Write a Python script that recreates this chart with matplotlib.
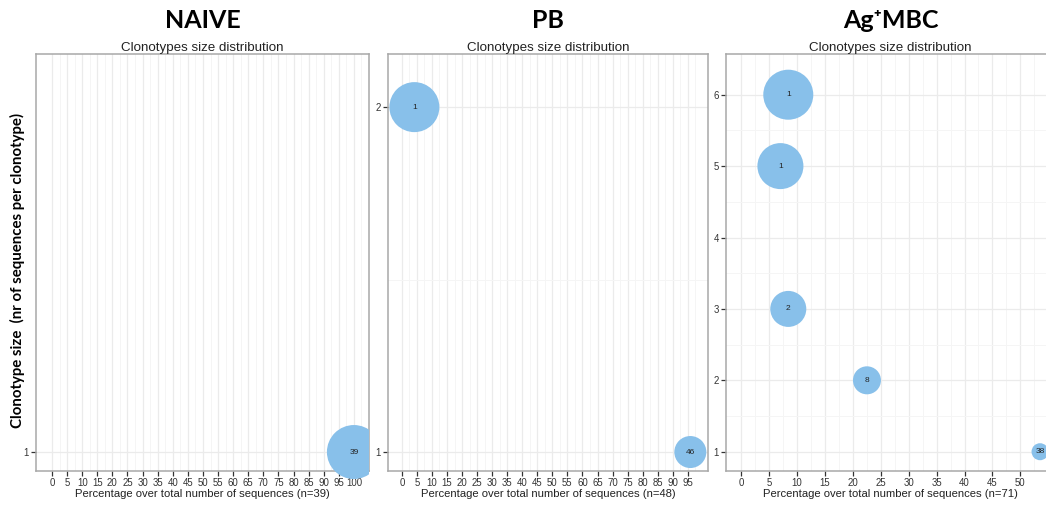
import numpy as np
import matplotlib.pyplot as plt
from matplotlib.patches import Rectangle

plt.rcParams['font.family'] = ['Liberation Sans', 'DejaVu Sans']

# clonotype size (sequences per clonotype) and number of clonotypes of that size
naive_size = [1]
naive_count = [39]
naive_n = 39

pb_size = [2, 1]
pb_count = [1, 46]
pb_n = 48

mbc_size = [6, 5, 3, 2, 1]
mbc_count = [1, 1, 2, 8, 38]
mbc_n = 71

panel_titles = ['NAIVE', 'PB', 'Ag\u207aMBC']
naive_xticks = list(range(0, 101, 5))
pb_xticks = list(range(0, 96, 5))
mbc_xticks = list(range(0, 51, 5))

# bubble radii in pixels
naive_r = [27]
pb_r = [25, 16]
mbc_r = [25, 23, 18, 14, 8.5]

W, H = 1046, 507
fig = plt.figure(figsize=(W / 100, H / 100), dpi=100)
fig.patch.set_facecolor('white')

BUBBLE = '#88c0ea'
GRID_MAJ = '#ebebeb'
GRID_MIN = '#f5f5f5'


def px_axes(x0, x1, y0, y1):
    return fig.add_axes([x0 / W, 1 - y1 / H, (x1 - x0) / W, (y1 - y0) / H])


def panel(ax, size, count, n, radii, xticks, xlim, ylim, yticks):
    pct = [s * c / n * 100 for s, c in zip(size, count)]
    ax.set_xlim(*xlim)
    ax.set_ylim(*ylim)
    ax.set_xticks(xticks)
    ax.set_xticks([t + 2.5 for t in xticks], minor=True)
    ax.set_yticks(yticks)
    ax.set_yticks([t + 0.5 for t in yticks[:-1]] if len(yticks) > 1 else [], minor=True)
    ax.grid(True, which='major', color=GRID_MAJ, lw=0.9, zorder=0)
    ax.grid(True, which='minor', color=GRID_MIN, lw=0.7, zorder=0)
    ax.set_axisbelow(True)
    ax.tick_params(which='major', length=3.5, width=0.9, color='#333333',
                   labelsize=6.9, labelcolor='#333333', pad=1.5)
    ax.tick_params(which='minor', length=0)
    for sp in ax.spines.values():
        sp.set_color('#a8a8a8')
        sp.set_linewidth(1.1)
    s = [(2 * r * 0.72) ** 2 for r in radii]
    sc = ax.scatter(pct, size, s=s, color=BUBBLE, edgecolors='none', zorder=3)
    clip = Rectangle((0, -0.2), 1, 1.4, transform=ax.transAxes, fill=False)
    sc.set_clip_path(clip)
    for x, y, c in zip(pct, size, count):
        ax.text(x, y, str(c), ha='center', va='center', fontsize=6,
                color='#222222', zorder=4, clip_on=False)
    ax.set_xlabel(f'Percentage over total number of sequences (n={n})',
                  fontsize=8.1, color='#222222', labelpad=0.5)
    ax.set_title('Clonotypes size distribution', fontsize=9.6, color='#222222', pad=2.5)


ax1 = px_axes(36, 369, 54, 471)
panel(ax1, naive_size, naive_count, naive_n, naive_r, naive_xticks,
      (-5.3, 105.0), (0.945, 2.154), [1])
ax2 = px_axes(388, 708, 54, 471)
panel(ax2, pb_size, pb_count, pb_n, pb_r, pb_xticks,
      (-4.6, 101.7), (0.945, 2.154), [1, 2])
ax3 = px_axes(726, 1055, 54, 471)
panel(ax3, mbc_size, mbc_count, mbc_n, mbc_r, mbc_xticks,
      (-2.7, 56.2), (0.73, 6.57), [1, 2, 3, 4, 5, 6])

# big panel headings
for ax, t in zip([ax1, ax2, ax3], panel_titles):
    bb = ax.get_position()
    fig.text((bb.x0 + bb.x1) / 2 if ax is not ax3 else 891 / W, 1 - 20 / H, t,
             ha='center', va='center', fontsize=18, fontweight='bold',
             family=['Lato', 'DejaVu Sans'], color='black')

fig.text(17 / W, 1 - 271 / H, 'Clonotype size  (nr of sequences per clonotype)',
         rotation=90, ha='center', va='center', fontsize=10.8, fontweight='bold',
         family=['Lato', 'DejaVu Sans'], color='black')

fig.savefig('out.png', dpi=100, facecolor='white')
